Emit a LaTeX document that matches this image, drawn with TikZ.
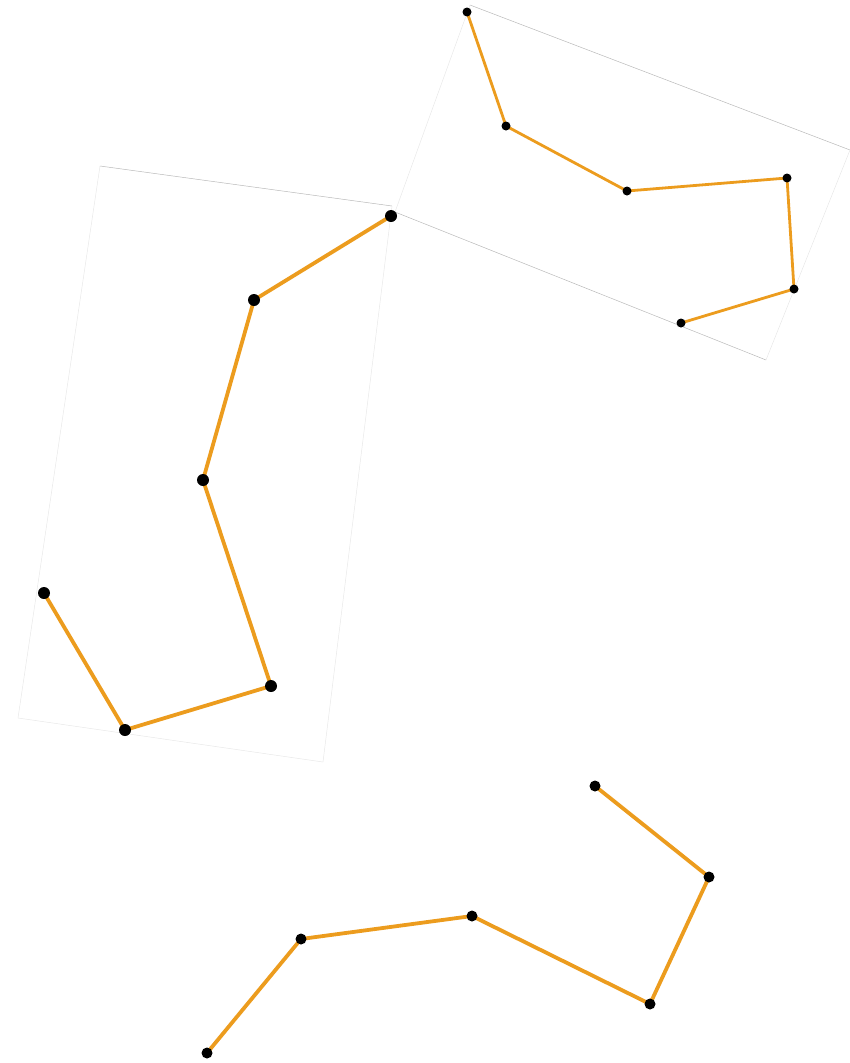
\documentclass[tikz,border=0pt]{standalone}
\definecolor{seg}{RGB}{236,156,30}
\definecolor{frame}{RGB}{185,185,185}
\definecolor{framefaint}{RGB}{232,232,232}
\tikzset{
  dotS/.style={circle,fill=black,inner sep=0pt,minimum size=9pt},
  dotL/.style={circle,fill=black,inner sep=0pt,minimum size=12pt},
  dotM/.style={circle,fill=black,inner sep=0pt,minimum size=11pt},
  segS/.style={draw=seg,line width=2.8pt},
  segL/.style={draw=seg,line width=3.8pt},
  frameline/.style={draw=frame,line width=0.5pt},
  framefaintline/.style={draw=framefaint,line width=0.5pt}
}
\begin{document}
\begin{tikzpicture}[x=1pt,y=-1pt]
\useasboundingbox (0,0) rectangle (850,1063);
% faint frames
\coordinate (f1) at (470,5);
\coordinate (f2) at (850,150);
\coordinate (f3) at (766,360);
\coordinate (f4) at (395,212);
\draw[frameline] (f1) -- (f2);
\draw[frameline] (f3) -- (f4);
\draw[framefaintline] (f2) -- (f3);
\draw[framefaintline] (f4) -- (f1);
\coordinate (g1) at (100,166);
\coordinate (g2) at (392,206);
\coordinate (g3) at (323,762);
\coordinate (g4) at (18,718);
\draw[frameline] (g1) -- (g2);
\draw[framefaintline] (g2) -- (g3);
\draw[framefaintline] (g3) -- (g4);
\draw[framefaintline] (g4) -- (g1);
% top group
\coordinate (a1) at (467,12);
\coordinate (a2) at (506,126);
\coordinate (a3) at (627,191);
\coordinate (a4) at (787,178);
\coordinate (a5) at (794,289);
\coordinate (a6) at (681,323);
\draw[segS] (a1) -- (a2) -- (a3) -- (a4) -- (a5) -- (a6);
\foreach \p in {a1,a2,a3,a4,a5,a6} \node[dotS] (n\p) at (\p) {};
% left group
\coordinate (b1) at (391,216);
\coordinate (b2) at (254,300);
\coordinate (b3) at (203,480);
\coordinate (b4) at (271,686);
\coordinate (b5) at (125,730);
\coordinate (b6) at (44,593);
\draw[segL] (b1) -- (b2) -- (b3) -- (b4) -- (b5) -- (b6);
\foreach \p in {b1,b2,b3,b4,b5,b6} \node[dotL] (n\p) at (\p) {};
% bottom group
\coordinate (c1) at (595,786);
\coordinate (c2) at (709,877);
\coordinate (c3) at (650,1004);
\coordinate (c4) at (472,916);
\coordinate (c5) at (301,939);
\coordinate (c6) at (207,1053);
\draw[segL] (c1) -- (c2) -- (c3) -- (c4) -- (c5) -- (c6);
\foreach \p in {c1,c2,c3,c4,c5,c6} \node[dotM] (n\p) at (\p) {};
\end{tikzpicture}
\end{document}
